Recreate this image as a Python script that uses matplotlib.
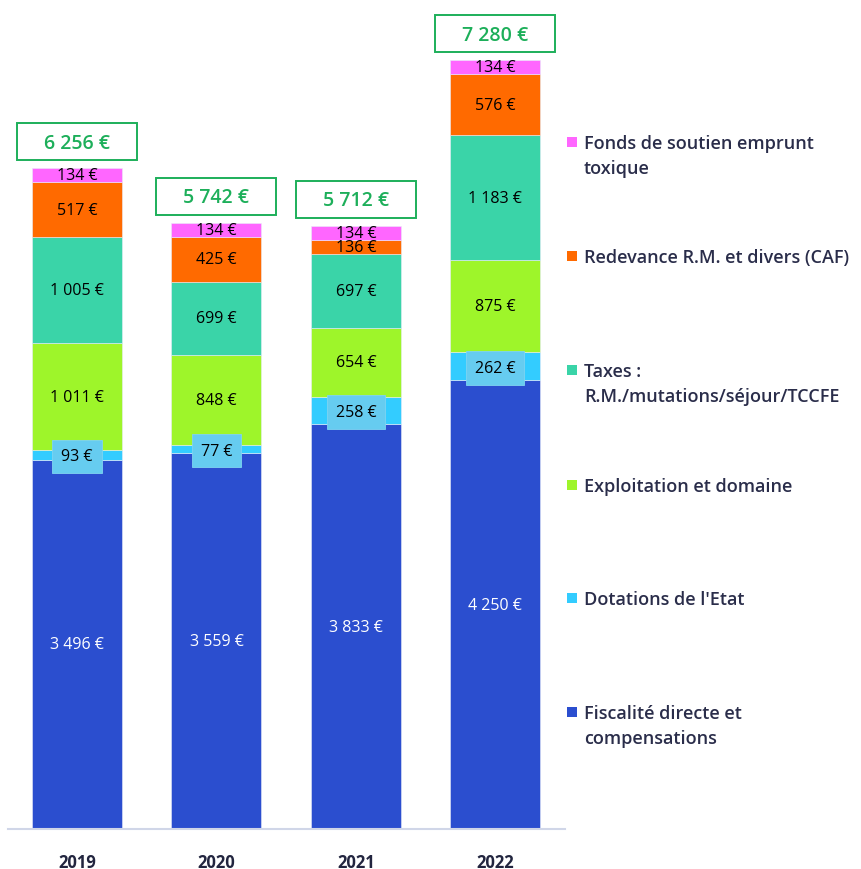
import matplotlib
matplotlib.use("Agg")
import matplotlib.pyplot as plt
from matplotlib.patches import Rectangle
import numpy as np

plt.rcParams['font.family'] = ['Open Sans', 'DejaVu Sans']

years = ["2019", "2020", "2021", "2022"]
fiscalite = [3496, 3559, 3833, 4250]
dotations = [93, 77, 258, 262]
exploitation = [1011, 848, 654, 875]
taxes = [1005, 699, 697, 1183]
redevance = [517, 425, 136, 576]
fonds = [134, 134, 134, 134]
totals = [6256, 5742, 5712, 7280]

series_names = ["Fiscalité directe et\ncompensations", "Dotations de l'Etat",
                "Exploitation et domaine", "Taxes :\nR.M./mutations/séjour/TCCFE",
                "Redevance R.M. et divers (CAF)", "Fonds de soutien emprunt\ntoxique"]
series = [fiscalite, dotations, exploitation, taxes, redevance, fonds]
colors = ["#2B4ECF", "#33CCFF", "#9EF52A", "#3AD4A8", "#FF6A00", "#FF66FF"]
text_colors = ["white", "black", "black", "black", "black", "black"]

def fmt(v):
    return f"{v:,}".replace(",", " ") + " €"

fig = plt.figure(figsize=(8.61, 8.70), dpi=100)
ax = fig.add_axes([8/861, 40/870, (565-8)/861, 830/870])
x = np.arange(len(years))
bottom = np.zeros(len(years))
for vals, col, tc in zip(series, colors, text_colors):
    vals = np.array(vals, dtype=float)
    ax.bar(x, vals, bottom=bottom, width=0.645, color=col, edgecolor="#E8ECF8", linewidth=0.4)
    for xi, b, v in zip(x, bottom, vals):
        yc = b + v / 2
        if col == "#33CCFF":
            ax.text(xi, yc - 15, fmt(int(v)), ha="center", va="center", fontsize=11.5, color=tc,
                    bbox=dict(boxstyle="square,pad=0.55", fc="#66CCF0", ec="#7FD4F2", lw=0.6))
        else:
            ax.text(xi, yc, fmt(int(v)), ha="center", va="center", fontsize=11.5, color=tc)
    bottom += vals

box_w, box_h = 0.86, 350
for xi, t in zip(x, totals):
    cx, cy = xi, t + 250
    ax.add_patch(Rectangle((cx - box_w/2, cy - box_h/2), box_w, box_h, fc="white",
                           ec="#1DAF5A", lw=1.4, zorder=5, clip_on=False))
    ax.text(cx, cy - 10, fmt(t), ha="center", va="center", fontsize=14,
            color="#1DAF5A", fontweight="semibold", zorder=6)

ax.set_xlim(-0.495, 3.5)
ax.set_ylim(0, 7858)
for s in ["top", "right", "left"]:
    ax.spines[s].set_visible(False)
ax.spines["bottom"].set_color("#D0D6E8")
ax.spines["bottom"].set_linewidth(1.5)
ax.set_yticks([])
ax.set_xticks(x)
ax.set_xticklabels(years, fontsize=12, fontweight="bold", color="#22253F")
ax.tick_params(axis="x", length=0, pad=17)

# legend (manual)
leg_y = [713, 599, 486, 371, 257, 143]
for name, col, yy in zip(series_names, colors, leg_y):
    fig.add_artist(Rectangle((567/861, 1 - (yy + 5)/870), 10/861, 10/870,
                             transform=fig.transFigure, fc=col, ec="none"))
    fig.text(584/861, 1 - (yy - 8)/870, name, ha="left", va="top", fontsize=13,
             fontweight="semibold", color="#2A2D4A", linespacing=1.5)

fig.savefig("out.png", dpi=100)
